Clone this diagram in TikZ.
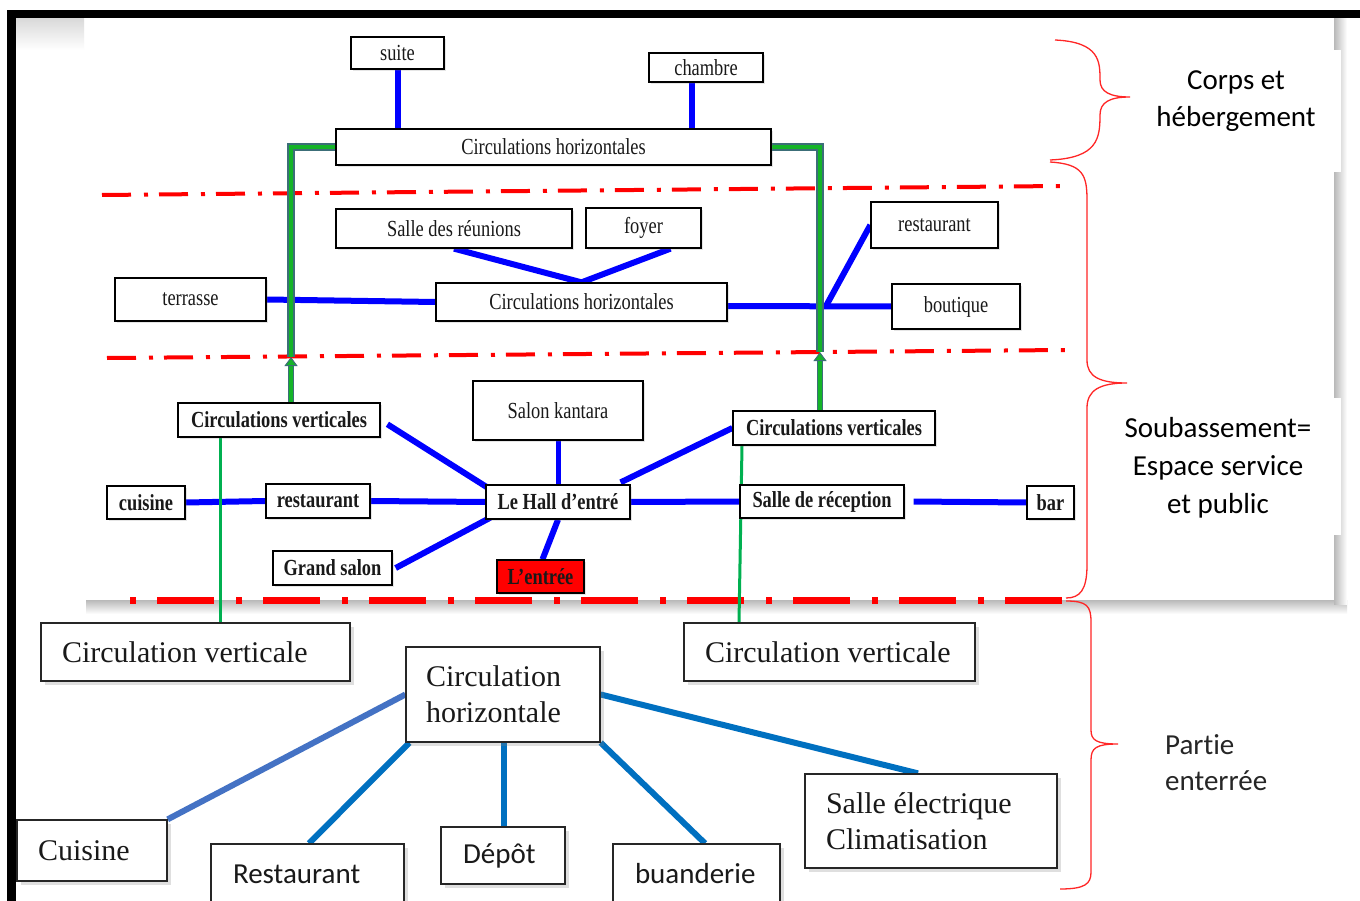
\documentclass[tikz,border=0pt]{standalone}
\usepackage{fontspec}
\setmainfont{Liberation Serif}
\newfontfamily\cndfam[FakeStretch=0.8]{Liberation Serif}
\newfontfamily\carlfam[Ligatures=NoCommon]{Carlito}
\usetikzlibrary{arrows.meta,shadows,calc}
\definecolor{bblue}{RGB}{0,0,255}
\definecolor{mblue}{RGB}{0,112,192}
\definecolor{lblue}{RGB}{68,114,196}
\definecolor{grn}{RGB}{0,176,80}
\definecolor{tgreen}{RGB}{20,180,40}
\definecolor{dteal}{RGB}{60,110,120}
\definecolor{bred}{RGB}{255,0,0}
\newcommand\mycnd{\cndfam\fontsize{23}{26}\selectfont}
\newcommand\mybig{\fontsize{30}{36}\selectfont}
\newcommand\mysans{\carlfam\fontsize{29}{37}\selectfont}
\pgfdeclarelayer{back}
\pgfdeclarelayer{lines}
\pgfsetlayers{back,lines,main}
\begin{document}
\begin{tikzpicture}[x=1pt,y=-1pt,
  tbox/.style={draw=black, line width=1.3pt, fill=white, inner sep=0pt, font=\mycnd, text=black!90,
    drop shadow={opacity=0.2, shadow xshift=2pt, shadow yshift=-2pt}},
  tbold/.style={tbox, font=\mycnd\bfseries},
  bbox/.style={draw=black!85, line width=1.3pt, fill=white, inner sep=0pt, font=\mybig, text=black!90,
    drop shadow={opacity=0.25, shadow xshift=4pt, shadow yshift=-4pt}},
  sbbox/.style={bbox, font=\mysans},
  bl/.style={draw=bblue, line width=6pt},
  mb/.style={draw=mblue, line width=6pt},
  gthin/.style={draw=grn, line width=3pt},
  gout/.style={draw=dteal, line width=7.5pt},
  gin/.style={draw=tgreen, line width=4.5pt},
  rdash/.style={draw=bred, line width=4pt, dash pattern=on 29pt off 13pt on 4pt off 11pt},
  rthick/.style={draw=bred, line width=7pt, dash pattern=on 6pt off 21pt on 57pt off 22pt},
  brace/.style={draw=bred!85, line width=1.3pt},
  lbl/.style={font=\mysans, text=black, align=center, inner sep=0pt}
]
\useasboundingbox (0,0) rectangle (1360,901);

\begin{pgfonlayer}{back}
  \fill[white] (0,0) rectangle (1360,901);
  \shade[top color=gray!30,bottom color=white] (16,18) rectangle (84,50);
  \shade[top color=gray!55,bottom color=white] (86,600) rectangle (1347,614);
  \shade[left color=gray!55,right color=white] (1334,18) rectangle (1347,604);
  \fill[white] (1130,50) rectangle (1341,172);
  \fill[white] (1105,398) rectangle (1341,535);
  \fill[black] (7,10) rectangle (1360,18);
  \fill[black] (7,10) rectangle (16,901);
\end{pgfonlayer}

% ---------- top section ----------
\node[tbox, minimum width=93pt, minimum height=32pt] (suite) at (397.5,53) {suite};
\node[tbox, minimum width=114pt, minimum height=29pt] (chambre) at (706,67.5) {chambre};
\node[tbox, minimum width=435pt, minimum height=36pt] (topch) at (553.5,147) {Circulations horizontales};

\node[tbox, minimum width=236pt, minimum height=39pt] (reunions) at (454,228.5) {Salle des réunions};
\node[tbox, minimum width=115pt, minimum height=40pt] (foyer) at (643.5,228) {foyer};
\node[tbox, minimum width=151pt, minimum height=43pt] (terrasse) at (190.5,299.5) {terrasse};
\node[tbox, minimum width=291pt, minimum height=38pt] (midch) at (581.5,302) {Circulations horizontales};
\node[tbox, minimum width=127pt, minimum height=46pt] (restau1) at (934.5,225) {restaurant};
\node[tbox, minimum width=128pt, minimum height=45pt] (boutique) at (956,306.5) {boutique};

% ---------- soubassement ----------
\node[tbold, minimum width=202pt, minimum height=34pt] (cvL) at (279,420) {Circulations verticales};
\node[tbox, minimum width=170pt, minimum height=59pt] (salon) at (558,410.5) {Salon kantara};
\node[tbold, minimum width=202pt, minimum height=34pt] (cvR) at (834,428) {Circulations verticales};
\node[tbold, minimum width=78pt, minimum height=33pt] (cuisine1) at (146,502.5) {cuisine};
\node[tbold, minimum width=104pt, minimum height=34pt] (restau2) at (318,501) {restaurant};
\node[tbold, minimum width=144pt, minimum height=34pt] (hall) at (558,502) {Le Hall d’entré};
\node[tbold, minimum width=164pt, minimum height=33pt] (reception) at (822,501.5) {Salle de réception};
\node[tbold, minimum width=47pt, minimum height=33pt] (bar) at (1050.5,502.5) {bar};
\node[tbold, minimum width=119pt, minimum height=34pt] (grandsalon) at (332.5,568) {Grand salon};
\node[tbold, fill=bred, minimum width=87pt, minimum height=33pt] (entree) at (540.5,576.5) {L’entrée};

% ---------- partie enterree ----------
\node[bbox, minimum width=309pt, minimum height=58pt, text width=267pt, align=flush left] (cvbL) at (195.5,652) {Circulation verticale};
\node[bbox, minimum width=291pt, minimum height=58pt, text width=249pt, align=flush left] (cvbR) at (829.5,652) {Circulation verticale};
\node[bbox, minimum width=194pt, minimum height=95pt, text width=154pt, align=flush left] (chb) at (503,694.5) {Circulation\\horizontale};
\node[bbox, minimum width=150pt, minimum height=61pt, text width=108pt, align=flush left] (cuisineb) at (92,850.5) {Cuisine};
\node[sbbox, minimum width=193pt, minimum height=60pt, text width=149pt, align=flush left] (restb) at (307.5,874) {Restaurant};
\node[sbbox, minimum width=124pt, minimum height=57pt, text width=80pt, align=flush left] (depot) at (503,855.5) {Dépôt};
\node[sbbox, minimum width=167pt, minimum height=60pt, text width=123pt, align=flush left] (buand) at (696.5,874) {buanderie};
\node[bbox, minimum width=252pt, minimum height=94pt, text width=210pt, align=flush left] (selec) at (931,821) {Salle électrique\\Climatisation};

% ---------- side labels ----------
\node[lbl] (corps) at (1236,101) {Corps et\\hébergement};
\node[lbl, font=\carlfam\fontsize{29}{38}\selectfont] (soub) at (1218,468) {Soubassement=\\Espace service\\et public};
\node[lbl, anchor=west, align=left, text=black!85, font=\carlfam\fontsize{29}{36}\selectfont] (partie) at (1165,763) {Partie\\enterrée};

\coordinate (gL) at (291,357);
\coordinate (gR) at (820,352);
\coordinate (j1) at (826,306);

\begin{pgfonlayer}{lines}
  % red separation lines
  \draw[rdash] (102,195) -- (1060,186);
  \draw[rdash] (107,358) -- (1065,350);
  \draw[rthick] (130,600) -- (1066,600);
  % top blue
  \draw[bl] (suite.south) -- (suite.south |- topch.north);
  \draw[bl] ([xshift=-14pt]chambre.south) -- ([xshift=-14pt]chambre.south |- topch.north);
  % middle blue
  \draw[bl, line join=miter] (reunions.south) -- (midch.north) -- ([xshift=27pt]foyer.south);
  \draw[bl] (terrasse.east) -- (midch.west);
  \draw[bl] ([yshift=-4pt]midch.east) -- (boutique.west);
  \draw[bl] (j1) -- (restau1.west);
  % soubassement blue
  \draw[bl] (cuisine1.east) -- (restau2.west);
  \draw[bl] (restau2.east) -- (hall.west);
  \draw[bl, shorten <=8pt] (cvL.east) -- ([xshift=5pt,yshift=-5pt]hall.north west);
  \draw[bl, line width=5pt] (salon.south) -- (hall.north);
  \draw[bl] ([xshift=-10pt,yshift=2pt]hall.north east) -- (cvR.west);
  \draw[bl] (hall.east) -- (reception.west);
  \draw[bl] ([xshift=9pt]reception.east) -- (bar.west);
  \draw[bl] ([xshift=5pt,yshift=2pt]hall.south west) -- ([xshift=3pt]grandsalon.east);
  \draw[bl] (hall.south) -- ([xshift=2pt]entree.north);
  % green thick L-shapes
  \draw[gout, line join=miter] (topch.west) -| (gL);
  \draw[gin, line join=miter] (topch.west) -| (gL);
  \draw[gout, line join=miter] (topch.east) -| (gR);
  \draw[gin, line join=miter] (topch.east) -| (gR);
  % green arrows
  \draw[draw=dteal, line width=6.5pt, shorten >=8pt] (cvL.north -| gL) -- (gL);
  \draw[draw=tgreen, line width=3.5pt, -{Triangle[width=13pt,length=9pt,fill=tgreen,color=dteal,line width=1pt]}] (cvL.north -| gL) -- (gL);
  \draw[draw=dteal, line width=6.5pt, shorten >=8pt] (cvR.north -| gR) -- (gR);
  \draw[draw=tgreen, line width=3.5pt, -{Triangle[width=13pt,length=9pt,fill=tgreen,color=dteal,line width=1pt]}] (cvR.north -| gR) -- (gR);
  % thin green
  \draw[gthin] ([xshift=-59pt]cvL.south) -- ([xshift=24.5pt]cvbL.north);
  \draw[gthin] ([xshift=-92pt]cvR.south) -- ([xshift=-90.5pt]cvbR.north);
  % bottom blue
  \draw[draw=lblue, line width=6pt] (cuisineb.north east) -- (chb.west);
  \draw[mb] ([xshift=1.5pt]restb.north) -- ([xshift=4pt]chb.south west);
  \draw[mb] ([xshift=1pt]depot.north) -- ([xshift=1pt]chb.south);
  \draw[mb] ([xshift=8.5pt]buand.north) -- (chb.south east);
  \draw[mb] ([xshift=-13pt]selec.north) -- (chb.east);
\end{pgfonlayer}

% braces
\draw[brace] (1055,40) .. controls (1100,42) and (1100,62) .. (1100,80)
  .. controls (1100,92) and (1110,97) .. (1130,97)
  .. controls (1110,97) and (1100,102) .. (1100,115)
  .. controls (1100,138) and (1098,158) .. (1050,160);
\draw[brace] (1050,162) .. controls (1083,164) and (1087,175) .. (1087,200) -- (1087,360)
  .. controls (1087,377) and (1100,383) .. (1127,383)
  .. controls (1100,383) and (1087,390) .. (1087,408) -- (1087,565)
  .. controls (1087,590) and (1080,598) .. (1066,598);
\draw[brace] (1066,601) .. controls (1087,601) and (1091,606) .. (1091,622) -- (1091,730)
  .. controls (1091,740) and (1096,744) .. (1118,744)
  .. controls (1096,744) and (1091,748) .. (1091,760) -- (1091,872)
  .. controls (1091,884) and (1085,889) .. (1060,889);
\end{tikzpicture}
\end{document}
